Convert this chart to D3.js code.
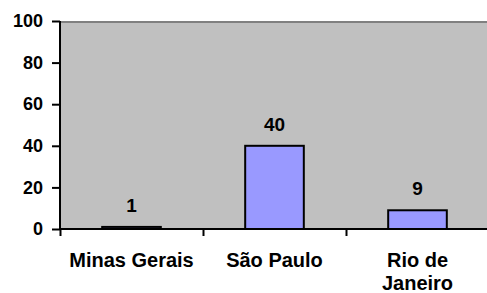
<!DOCTYPE html>
<html>
<head>
<meta charset="utf-8">
<script src="https://cdn.jsdelivr.net/npm/d3@7"></script>
<style>
html,body{margin:0;padding:0;background:#fff;}
svg{display:block;font-family:"Liberation Sans",Arial,sans-serif;font-weight:bold;}
</style>
</head>
<body>
<svg id="chart" width="487" height="293"></svg>
<script>
const categories = ["Minas Gerais", "São Paulo", "Rio de Janeiro"];
const categoryLines = [["Minas Gerais"], ["São Paulo"], ["Rio de", "Janeiro"]];
const values = [1, 40, 9];
const yTicks = [0, 20, 40, 60, 80, 100];

(function () {
const svg = d3.select("#chart");
const mLeft = 60, mRight = 489, mTop = 21, mBottom = 229;

const y = d3.scaleLinear().domain([0, 100]).range([mBottom, mTop]);
const x = d3.scaleBand().domain(categories).range([mLeft, mRight])
  .paddingInner(0.59).paddingOuter(0.295);
const xb = d3.scaleLinear().domain([0, categories.length]).range([mLeft, mRight]);

// plot background
svg.append("rect").attr("x", mLeft).attr("y", mTop)
  .attr("width", 487 - mLeft).attr("height", mBottom - mTop)
  .attr("fill", "#c0c0c0");
// top border
svg.append("line").attr("x1", mLeft).attr("x2", 487)
  .attr("y1", mTop + 1).attr("y2", mTop + 1)
  .attr("stroke", "#808080").attr("stroke-width", 2);

// bars
svg.selectAll("rect.bar").data(values).enter().append("rect")
  .attr("class", "bar")
  .attr("x", (d, i) => x(categories[i]))
  .attr("y", d => y(d))
  .attr("width", x.bandwidth())
  .attr("height", d => y(0) - y(d))
  .attr("fill", "#9999ff")
  .attr("stroke", "#000")
  .attr("stroke-width", 2);

// value labels
svg.selectAll("text.val").data(values).enter().append("text")
  .attr("class", "val")
  .attr("x", (d, i) => x(categories[i]) + x.bandwidth() / 2)
  .attr("y", d => y(d) - 15)
  .attr("text-anchor", "middle")
  .attr("font-size", 19)
  .attr("fill", "#000")
  .text(d => d);

// y axis
const yAxis = svg.append("g").attr("transform", `translate(${mLeft},0)`)
  .call(d3.axisLeft(y).tickValues(yTicks).tickSize(8).tickPadding(9));
yAxis.select(".domain").attr("stroke", "#000").attr("stroke-width", 2)
  .attr("d", `M0,${mBottom}V${mTop}`);
yAxis.selectAll(".tick line").attr("stroke", "#000").attr("stroke-width", 2);
yAxis.selectAll(".tick text").attr("font-size", 18).attr("fill", "#000")
  .attr("font-family", "'Liberation Sans',Arial,sans-serif").attr("font-weight", "bold");

// x axis
const xAxis = svg.append("g").attr("transform", `translate(0,${mBottom})`)
  .call(d3.axisBottom(xb).tickValues(d3.range(categories.length + 1)).tickSize(7).tickFormat(""));
xAxis.select(".domain").attr("stroke", "#000").attr("stroke-width", 2)
  .attr("d", `M${mLeft},0H${mRight}`);
xAxis.selectAll(".tick line").attr("stroke", "#000").attr("stroke-width", 2);

// category labels
const cat = svg.selectAll("text.cat").data(categoryLines).enter().append("text")
  .attr("class", "cat")
  .attr("x", (d, i) => x(categories[i]) + x.bandwidth() / 2)
  .attr("y", 267)
  .attr("text-anchor", "middle")
  .attr("font-size", 20)
  .attr("fill", "#000");
cat.selectAll("tspan").data(d => d).enter().append("tspan")
  .attr("x", function () { return d3.select(this.parentNode).attr("x"); })
  .attr("dy", (d, i) => i === 0 ? 0 : 23.3)
  .text(d => d);
})();
</script>
</body>
</html>
